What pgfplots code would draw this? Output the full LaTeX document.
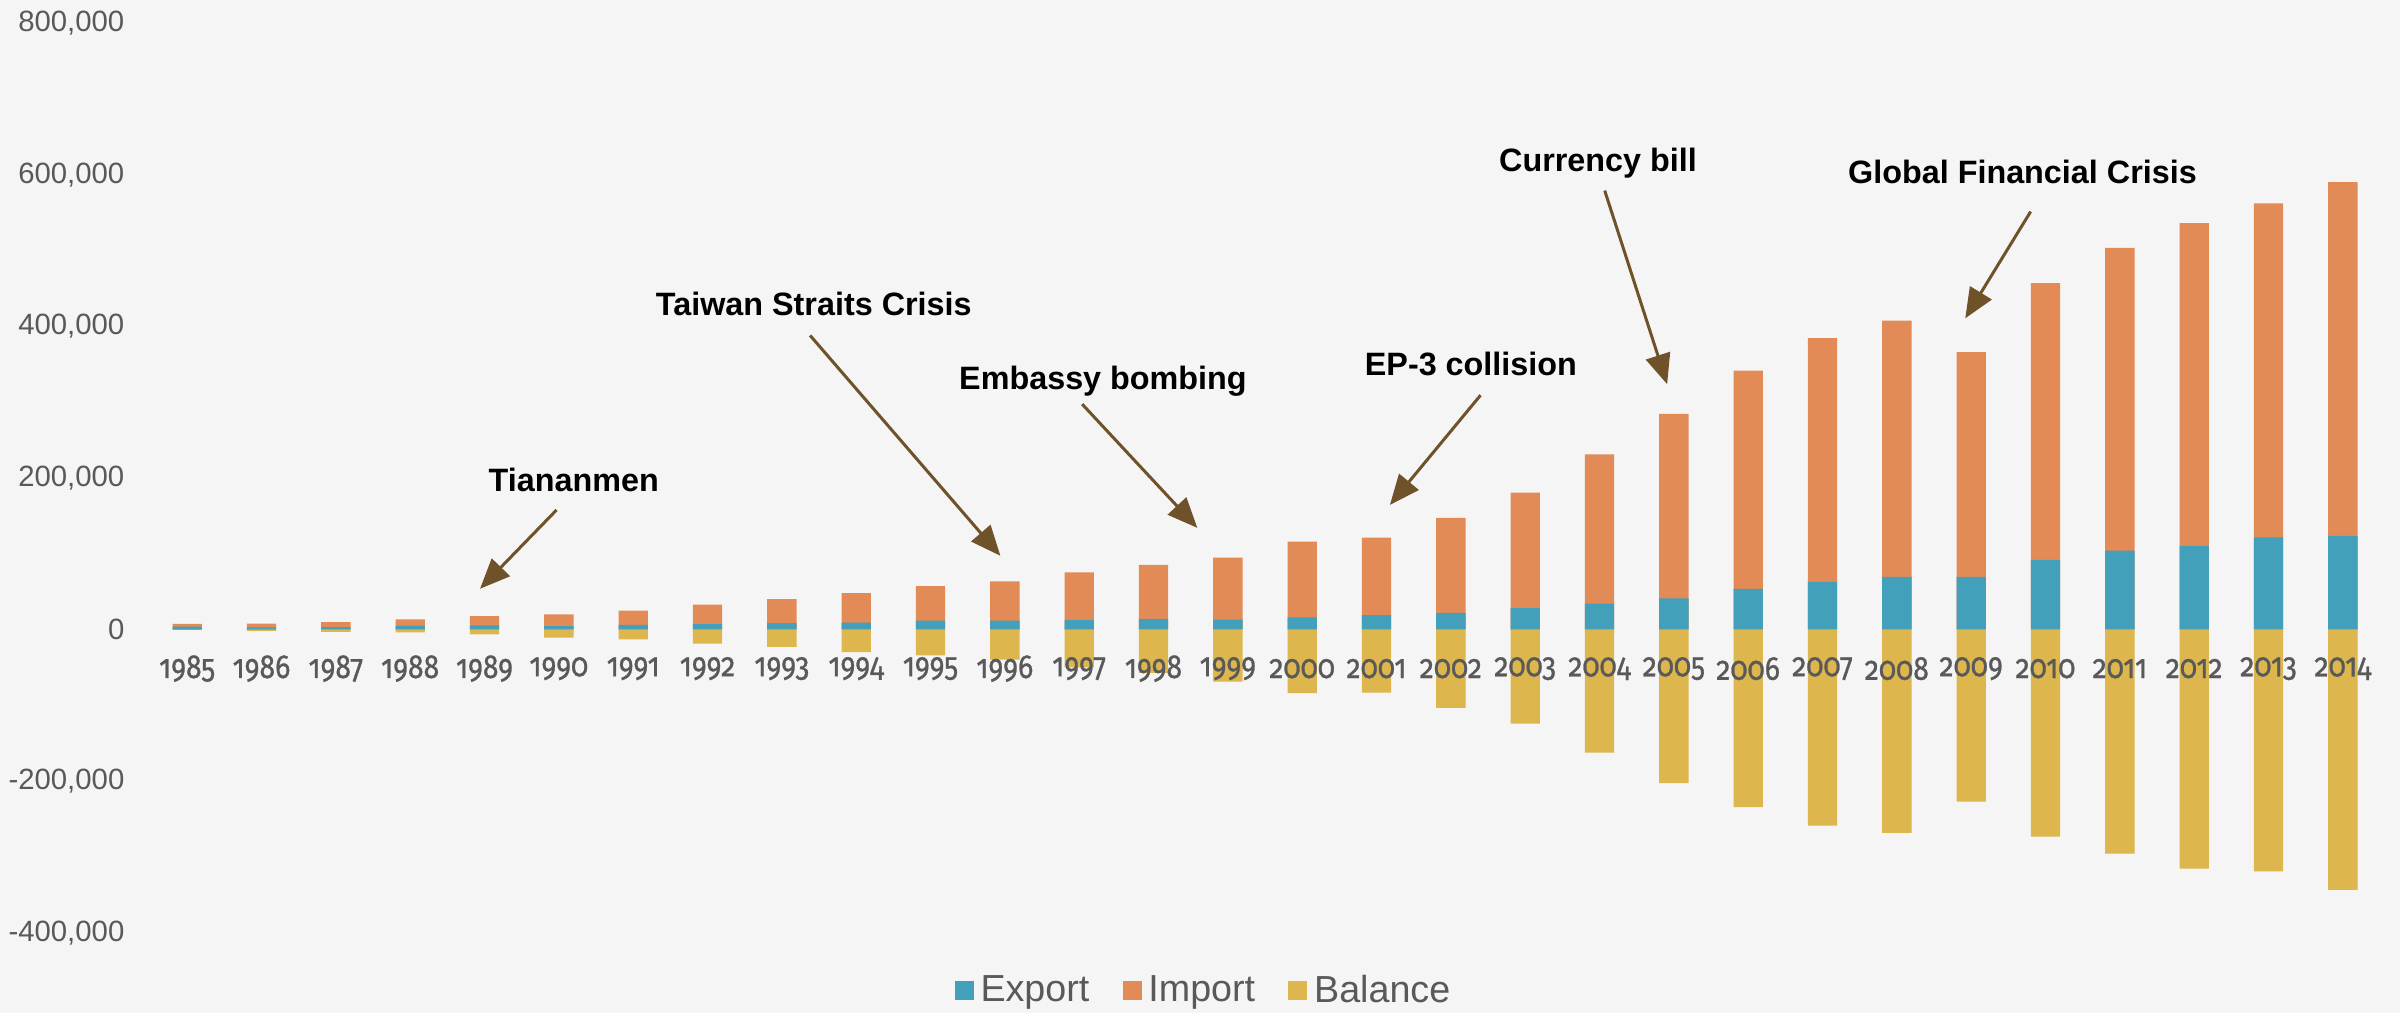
\documentclass[border=0pt]{standalone}
\usepackage{pgfplots}
\pgfplotsset{compat=1.18}
\usepackage{pgfplotstable}
\usepackage{fontspec}
\setmainfont{Liberation Sans}
\newfontfamily\yearfont[Numbers=OldStyle, FakeStretch=0.85, FakeBold=0.8]{Fira Sans}
\usetikzlibrary{arrows.meta}

\definecolor{bgc}{HTML}{F5F5F5}
\definecolor{expc}{HTML}{43A0BA}
\definecolor{impc}{HTML}{E38B57}
\definecolor{balc}{HTML}{DDB64E}
\definecolor{gridc}{HTML}{D9D9D9}
\definecolor{txtc}{HTML}{595959}
\definecolor{arrc}{HTML}{70522A}

\pgfplotsset{
  layers/labelsontop/.define layer set={
    axis background,axis grid,axis ticks,axis lines,main,axis tick labels,axis descriptions,axis foreground
  }{/pgfplots/layers/standard},
}

\pgfplotstableread{
year exp imp bal
1985 3856 3862 -6
1986 3106 4771 -1665
1987 3497 6294 -2796
1988 5022 8511 -3489
1989 5755 11990 -6234
1990 4806 15237 -10431
1991 6278 18969 -12691
1992 7418 25728 -18309
1993 8763 31540 -22777
1994 9282 38787 -29505
1995 11754 45543 -33790
1996 11993 51513 -39520
1997 12862 62558 -49696
1998 14241 71169 -56927
1999 13111 81788 -68677
2000 16185 100018 -83833
2001 19182 102278 -83096
2002 22128 125193 -103065
2003 28368 152436 -124068
2004 34428 196682 -162254
2005 41192 243470 -202278
2006 53673 287774 -234101
2007 62937 321443 -258506
2008 69733 337773 -268040
2009 69497 296374 -226877
2010 91911 364953 -273042
2011 104122 399371 -295250
2012 110517 425619 -315102
2013 121746 440430 -318684
2014 123657 466656 -342999
}\tradedata

\begin{document}
\begin{tikzpicture}
\fill[bgc] (-45pt,-24pt) rectangle (675pt,279.9pt);
\begin{axis}[
  at={(0pt,0pt)}, anchor=south west,
  set layers=labelsontop,
  scale only axis, width=669pt, height=273pt,
  xmin=-0.5, xmax=29.5, ymin=-400000, ymax=800000,
  ybar, bar width=8.8pt, bar shift=0pt,
  axis x line*=middle, axis y line*=left,
  axis line style={draw=none},
  hide obscured x ticks=false, hide obscured y ticks=false,
  major tick length=0pt,
  ytick={-400000,-200000,0,200000,400000,600000,800000},
  yticklabels={{-400,000},{-200,000},{0},{200,000},{400,000},{600,000},{800,000}},
  ymajorgrids, grid style={draw=gridc, line width=0.6pt},
  xtick={0,...,29},
  xticklabels={1985,1986,1987,1988,1989,1990,1991,1992,1993,1994,1995,1996,1997,1998,1999,2000,2001,2002,2003,2004,2005,2006,2007,2008,2009,2010,2011,2012,2013,2014},
  xticklabel style={font=\yearfont\fontsize{10}{11}\selectfont, text=txtc, anchor=center, yshift=-11.7pt},
  yticklabel style={font=\fontsize{8.8}{10}\selectfont, text=txtc, anchor=east, inner sep=0pt, xshift=-7.5pt},
  legend image code/.code={\fill[#1] (0pt,-2.85pt) rectangle (5.7pt,2.85pt);},
  legend columns=-1,
  legend style={at={(0.4735,-0.0636)}, anchor=center, draw=none, fill=none,
    font=\fontsize{11.3}{13}\selectfont, text=txtc,
    /tikz/every even column/.append style={column sep=8pt}},
]
\addlegendimage{fill=expc, draw=none}
\addlegendentry{Export}
\addlegendimage{fill=impc, draw=none}
\addlegendentry{Import}
\addlegendimage{fill=balc, draw=none}
\addlegendentry{Balance}

\addplot[fill=impc, draw=none, forget plot] table[x expr=\coordindex, y expr=\thisrow{exp}+\thisrow{imp}] {\tradedata};
\addplot[fill=expc, draw=none, forget plot] table[x expr=\coordindex, y=exp] {\tradedata};
\addplot[fill=balc, draw=none, forget plot] table[x expr=\coordindex, y=bal] {\tradedata};

\tikzset{ann/.style={font=\bfseries\fontsize{9.7}{12}\selectfont, text=black},
         arw/.style={draw=arrc, line width=0.9pt, -{Triangle[length=9pt,width=7.5pt]}}}
\node[ann] at (axis cs:5.20,197400) {Tiananmen};
\draw[arw] (axis cs:4.97,157900) -- (axis cs:3.94,53900);
\node[ann] at (axis cs:8.43,429000) {Taiwan Straits Crisis};
\draw[arw] (axis cs:8.38,388000) -- (axis cs:10.94,97400);
\node[ann] at (axis cs:12.32,327600) {Embassy bombing};
\draw[arw] (axis cs:12.04,297400) -- (axis cs:13.59,134200);
\node[ann] at (axis cs:17.27,350000) {EP-3 collision};
\draw[arw] (axis cs:17.40,309200) -- (axis cs:16.18,164500);
\node[ann] at (axis cs:18.98,615800) {Currency bill};
\draw[arw] (axis cs:19.07,579000) -- (axis cs:19.91,323700);
\node[ann] at (axis cs:24.69,604000) {Global Financial Crisis};
\draw[arw] (axis cs:24.80,551300) -- (axis cs:23.92,410500);
\end{axis}
\pgfresetboundingbox
\useasboundingbox (-45pt,-24pt) rectangle (675pt,279.9pt);
\end{tikzpicture}
\end{document}
